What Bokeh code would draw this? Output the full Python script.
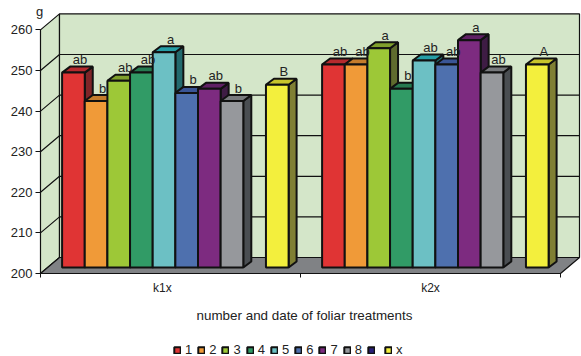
from bokeh.plotting import figure
from bokeh.models import (ColumnDataSource, FixedTicker, Label, Legend, LegendItem, LinearAxis, Range1d)
from bokeh.core.properties import value
from bokeh.embed import file_html
from bokeh.resources import INLINE

nan = float("nan")
groups = ["k1x", "k2x"]
group_label_at = [0.469, 1.5]
series = ["1", "2", "3", "4", "5", "6", "7", "8", "  ", "x"]
v1 = [248, 250]
v2 = [241, 250]
v3 = [246, 254]
v4 = [248, 244]
v5 = [253, 251]
v6 = [243, 250]
v7 = [244, 256]
v8 = [241, 248]
v9 = [nan, nan]
vx = [245, 250]
l1 = ["ab", "ab"]
l2 = ["b", "ab"]
l3 = ["ab", "a"]
l4 = ["ab", "b"]
l5 = ["a", "ab"]
l6 = ["b", "ab"]
l7 = ["ab", "a"]
l8 = ["b", "ab"]
l9 = ["", ""]
lx = ["B", "A"]
y_ticks = [200, 210, 220, 230, 240, 250, 260]
x_title = "number and date of foliar treatments"
front = ["#e03434", "#f09a38", "#9dc837", "#319b66", "#6cc0c4", "#4e70ae", "#7d2b80", "#96989c", "#2a1f7a", "#f3ef3d"]
top = ["#b52a2e", "#c47c2c", "#7f9f2c", "#267a50", "#259ea6", "#3a5596", "#5f2064", "#77797c", "#201860", "#c8c42c"]
side = ["#7f2528", "#8a5a22", "#5f6b2e", "#1f5a3e", "#236a6e", "#2b3d6c", "#3e1c44", "#4a4e52", "#151040", "#7f7f33"]
wall_color = "#d4e6c9"
floor_color = "#808285"
ink = "#111111"
text_ink = "#222222"
font = "Liberation Sans"

W, H = 581, 356
PXU = 260.0          # pixels per group on the x axis
PXV = 4.06           # pixels per unit on the y axis
BAR = 22.65 / PXU
START = 21.6 / PXU
DX, DY = 8 / PXU, 6 / PXV            # bar depth
WX, WY = 19 / PXU, 16 / PXV          # wall depth
LIFT = 6 / PXV                       # bars stand this far up the floor
Y0 = 200
LEFT_PAD, BOTTOM_PAD = 40, 83

p = figure(width=W, height=H, output_backend="svg", toolbar_location=None,
           x_range=Range1d(-LEFT_PAD / PXU, (W - LEFT_PAD) / PXU),
           y_range=Range1d(Y0 - BOTTOM_PAD / PXV, Y0 + (H - BOTTOM_PAD) / PXV),
           x_axis_type=None, y_axis_type=None,
           min_border_left=0, min_border_right=0, min_border_top=0, min_border_bottom=0,
           outline_line_color=None, background_fill_color="white")
p.grid.visible = False

ymax = y_ticks[-1]
p.patch([0, WX, WX, 0], [Y0, Y0 + WY, ymax + WY, ymax], fill_color=wall_color, line_color=ink, line_width=1.2)
p.patch([WX, 2 + WX, 2 + WX, WX], [Y0 + WY, Y0 + WY, ymax + WY, ymax + WY], fill_color=wall_color, line_color=ink, line_width=1.2)
p.patch([0, WX, 2 + WX, 2], [Y0, Y0 + WY, Y0 + WY, Y0], fill_color=floor_color, line_color=ink, line_width=1.2)
for t in y_ticks[1:-1]:
    p.line([0, WX, 2 + WX], [t, t + WY, t + WY], line_color=ink, line_width=1.2)

values = [v1, v2, v3, v4, v5, v6, v7, v8, v9, vx]
letters = [l1, l2, l3, l4, l5, l6, l7, l8, l9, lx]
slots = [0, 1, 2, 3, 4, 5, 6, 7, 9, 9]
label_x, label_y, label_t = [], [], []
legend_items = []
for i, (vals, lets, slot) in enumerate(zip(values, letters, slots)):
    lefts = [g + START + slot * BAR for g in range(len(vals))]
    rights = [a + BAR for a in lefts]
    tops = [v + LIFT for v in vals]
    base = Y0 + LIFT
    src = ColumnDataSource(dict(left=lefts, right=rights, top=tops, bottom=[base] * len(vals)))
    if vals != v9:
        p.patches([[r, r + DX, r + DX, r] for r in rights],
                  [[base, base + DY, t + DY, t] for t in tops],
                  fill_color=side[i], line_color=ink, line_width=2)
        p.patches([[a, a + DX, r + DX, r] for a, r in zip(lefts, rights)],
                  [[t, t + DY, t + DY, t] for t in tops],
                  fill_color=top[i], line_color=ink, line_width=2)
    r = p.quad(left="left", right="right", top="top", bottom="bottom", source=src,
               fill_color=front[i], line_color=ink, line_width=2)
    legend_items.append(LegendItem(label=series[i], renderers=[r]))
    for a, t, s in zip(lefts, tops, lets):
        if s:
            label_x.append(a + BAR / 2 + 6.5 / PXU)
            label_y.append(t + 13 / PXV)
            label_t.append(s)

p.text(label_x, label_y, text=label_t, text_align="center", text_baseline="middle",
       text_font=value(font), text_font_size="13px", text_color=text_ink)

ya = LinearAxis(fixed_location=0, ticker=FixedTicker(ticks=y_ticks), bounds=(Y0, ymax))
ya.axis_line_color = ink
ya.major_tick_line_color = ink
ya.major_tick_in = 0
ya.major_tick_out = 5
ya.minor_tick_line_color = None
ya.major_label_text_font = font
ya.major_label_text_font_size = "13px"
ya.major_label_text_color = text_ink
ya.major_label_standoff = 3
p.add_layout(ya, "left")

xa = LinearAxis(fixed_location=Y0, bounds=(0, 2),
                ticker=FixedTicker(ticks=group_label_at, minor_ticks=[0, 1, 2]))
xa.major_label_overrides = dict(zip(group_label_at, groups))
xa.axis_line_color = ink
xa.major_tick_line_color = None
xa.major_tick_out = 0
xa.major_tick_in = 0
xa.minor_tick_line_color = ink
xa.minor_tick_out = 4
xa.minor_tick_in = 0
xa.major_label_text_font = font
xa.major_label_text_font_size = "12px"
xa.major_label_text_color = text_ink
xa.major_label_standoff = 3
p.add_layout(xa, "below")

p.add_layout(Label(x=264 / PXU, y=Y0 - 42 / PXV, text=x_title, text_font=font, text_font_size="13.4px",
                   text_color=text_ink, text_align="center", text_baseline="middle"))
p.add_layout(Label(x=-1 / PXU, y=ymax + 4.5, text="g", text_font=font, text_font_size="13px",
                   text_color=text_ink, text_align="center", text_baseline="middle"))

legend = Legend(items=legend_items, orientation="horizontal", location=(173, -1),
                border_line_color=None, background_fill_alpha=0,
                glyph_width=8, glyph_height=8, label_standoff=4, spacing=5, padding=3, margin=0,
                label_width=0, label_text_font=font, label_text_font_size="13px", label_text_color=text_ink)
p.add_layout(legend)

open("out.html", "w").write(file_html(p, INLINE))
